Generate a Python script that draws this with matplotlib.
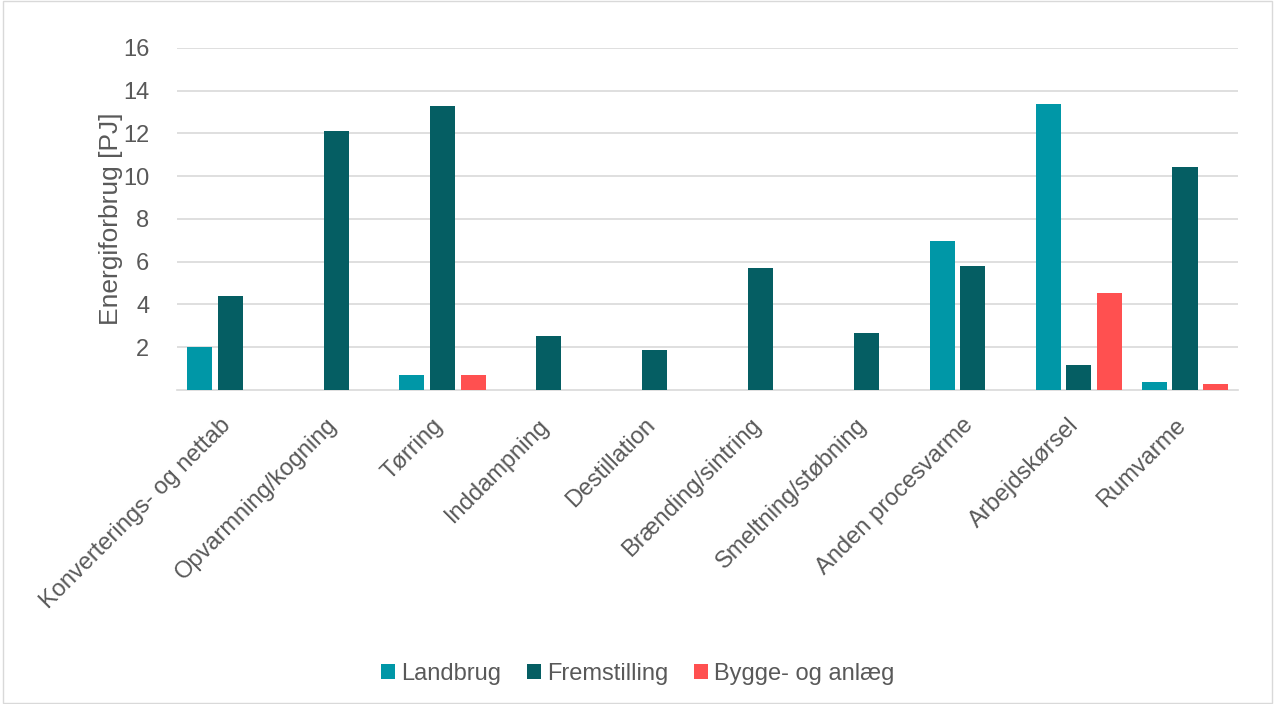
import matplotlib
matplotlib.use("Agg")
import matplotlib.pyplot as plt
import matplotlib.transforms as mtransforms
import numpy as np

categories = ["Konverterings- og nettab", "Opvarmning/kogning", "Tørring", "Inddampning",
              "Destillation", "Brænding/sintring", "Smeltning/støbning", "Anden procesvarme",
              "Arbejdskørsel", "Rumvarme"]
landbrug = [2.0, 0, 0.7, 0, 0, 0, 0, 6.96, 13.36, 0.37]
fremstilling = [4.4, 12.1, 13.3, 2.52, 1.87, 5.7, 2.66, 5.8, 1.17, 10.42]
bygge = [0, 0, 0.7, 0, 0, 0, 0, 0, 4.53, 0.28]
series_names = ["Landbrug", "Fremstilling", "Bygge- og anlæg"]
colors = ["#0097A7", "#055E63", "#FF5050"]
yticks = [2, 4, 6, 8, 10, 12, 14, 16]

plt.rcParams['font.family'] = ['Liberation Sans', 'DejaVu Sans']
txt = "#595959"

fig = plt.figure(figsize=(12.75, 7.04), dpi=100)
ax = fig.add_axes([0.139, 0.446, 0.832, 0.486])

x = np.arange(len(categories))
w = 0.236
off = 0.29
for i, (vals, name, c) in enumerate(zip([landbrug, fremstilling, bygge], series_names, colors)):
    ax.bar(x + (i - 1) * off, vals, width=w, color=c, label=name, zorder=3)

ax.set_xlim(-0.5, len(categories) - 0.5)
ax.set_ylim(0, 16)
ax.set_yticks(yticks)
ax.set_yticklabels([str(t) for t in yticks], fontsize=17, color=txt)
ax.grid(axis='y', color='#D9D9D9', linewidth=1.2, zorder=0)
ax.tick_params(axis='y', length=0, pad=20)
ax.tick_params(axis='x', length=0, pad=23)
for s in ['top', 'right', 'left']:
    ax.spines[s].set_visible(False)
ax.spines['bottom'].set_color('#D9D9D9')
ax.spines['bottom'].set_linewidth(1.2)
ax.set_xticks(x)
ax.set_xticklabels(categories, rotation=45, ha='right', va='center', rotation_mode='anchor',
                   fontsize=17, color=txt)
shift = mtransforms.ScaledTranslation(-3 / 100, 0, fig.dpi_scale_trans)
for lbl in ax.get_xticklabels():
    lbl.set_transform(lbl.get_transform() + shift)
ax.set_ylabel("Energiforbrug [PJ]", fontsize=19, color=txt, labelpad=0)

leg = fig.legend(loc='center', bbox_to_anchor=(0.5, 0.043), ncol=3, frameon=False,
                 fontsize=17, handlelength=0.6, handleheight=0.6, handletextpad=0.25,
                 columnspacing=1.1)
for t in leg.get_texts():
    t.set_color(txt)

border = plt.Rectangle((0.002, 0.002), 0.996, 0.996, transform=fig.transFigure,
                       fill=False, edgecolor='#D9D9D9', linewidth=1)
fig.patches.append(border)

fig.savefig("out.png", dpi=100)
